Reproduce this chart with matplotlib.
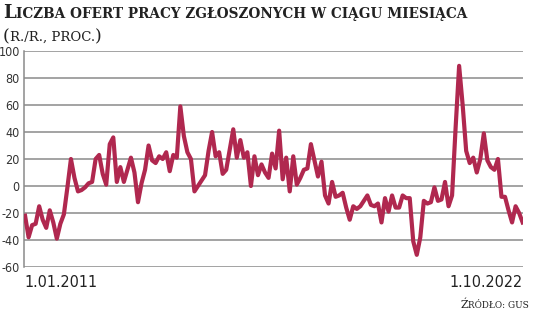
import matplotlib
matplotlib.use("Agg")
from matplotlib import pyplot as plt
from matplotlib import font_manager

# monthly y/y change, 1.01.2011 .. 1.10.2022
values = [
    -22, -38, -29, -28, -15, -25, -31, -18, -27, -39, -28, -21,
    -1, 20, 6, -4, -3, -1, 2, 3, 20, 23, 9, 1,
    31, 36, 3, 14, 3, 12, 21, 10, -12, 2, 12, 30,
    19, 17, 22, 20, 25, 11, 23, 21, 59, 37, 25, 20,
    -4, 0, 4, 8, 26, 40, 22, 25, 9, 12, 27, 42,
    21, 34, 21, 25, 0, 22, 8, 16, 10, 6, 24, 13,
    41, 5, 21, -4, 22, 1, 6, 12, 13, 31, 19, 7,
    18, -7, -13, 3, -8, -7, -5, -16, -25, -15, -17, -15,
    -11, -7, -14, -15, -13, -27, -9, -19, -7, -16, -16, -7,
    -9, -9, -41, -51, -38, -11, -13, -12, -1, -11, -10, 3,
    -15, -7, 43, 89, 60, 26, 17, 21, 10, 20, 39, 19,
    14, 12, 20, -8, -8, -18, -27, -15, -20, -27,
]
yticks = [-60, -40, -20, 0, 20, 40, 60, 80, 100]
first_label = "1.01.2011"
last_label = "1.10.2022"
title_parts = [("L", 13), ("ICZBA OFERT PRACY ZGŁOSZONYCH W CIĄGU MIESIĄCA", 9.85)]
subtitle_parts = [("(", 12.5), ("R./R., PROC.", 9.5), (")", 12.5)]
source_parts = [("Ź", 8), ("RÓDŁO: GUS", 6.4)]

# an upright condensed sans if one is installed, Roboto otherwise
cond = [f for f in font_manager.fontManager.ttflist
        if "condensed" in str(f.stretch).lower() and f.style == "normal"
        and f.weight in (400, "normal") and "sans" in f.name.lower()]
if cond:
    num_prop = font_manager.FontProperties(fname=cond[0].fname)
else:
    num_prop = font_manager.FontProperties(family="Roboto")

fig = plt.figure(figsize=(5.36, 3.17), dpi=100)
ax = fig.add_axes([24/536, 1-267/317, (523-24)/536, (267-51)/317])

months = list(range(len(values)))
ax.plot(months, values, color="#b0284f", lw=3.0, solid_joinstyle="round", zorder=3)

ax.set_ylim(-60, 100)
ax.set_xlim(-0.3, len(values) - 0.9)
ax.set_yticks(yticks)
ax.set_yticklabels([str(t) for t in yticks])
for lab in ax.get_yticklabels():
    lab.set_fontproperties(num_prop)
    lab.set_fontsize(9)
    lab.set_color("#333333")
ax.tick_params(axis="y", length=0, pad=3)
ax.set_xticks([])
ax.grid(axis="y", color="#8a8a8a", lw=1.1)
ax.set_axisbelow(True)
for s in ["top", "right", "bottom"]:
    ax.spines[s].set_visible(False)
ax.spines["left"].set_color("#8a8a8a")
ax.spines["left"].set_linewidth(1.1)

for x, lab, ha in [(0, first_label, "left"), (1, last_label, "right")]:
    t = ax.text(x, -0.035, lab, transform=ax.transAxes, ha=ha, va="top", color="#222222")
    t.set_fontproperties(num_prop)
    t.set_fontsize(11.5)

renderer = fig.canvas.get_renderer()

def smallcaps(x, y, parts, weight="normal", align="left"):
    # draw pieces one after another on a common baseline (pixel coords)
    texts = []
    for txt, size in parts:
        t = fig.text(0, 0, txt, fontsize=size, family="DejaVu Serif", weight=weight,
                     va="baseline", ha="left", color="#222222")
        texts.append(t)
    widths = [t.get_window_extent(renderer).width for t in texts]
    total = sum(widths)
    cx = x - total if align == "right" else x
    for t, w in zip(texts, widths):
        t.set_position((cx / 536, 1 - y / 317))
        cx += w

smallcaps(3, 18, title_parts, weight="bold")
smallcaps(3, 41, subtitle_parts)
smallcaps(529, 308, source_parts, align="right")

fig.savefig("out.png", dpi=100)
